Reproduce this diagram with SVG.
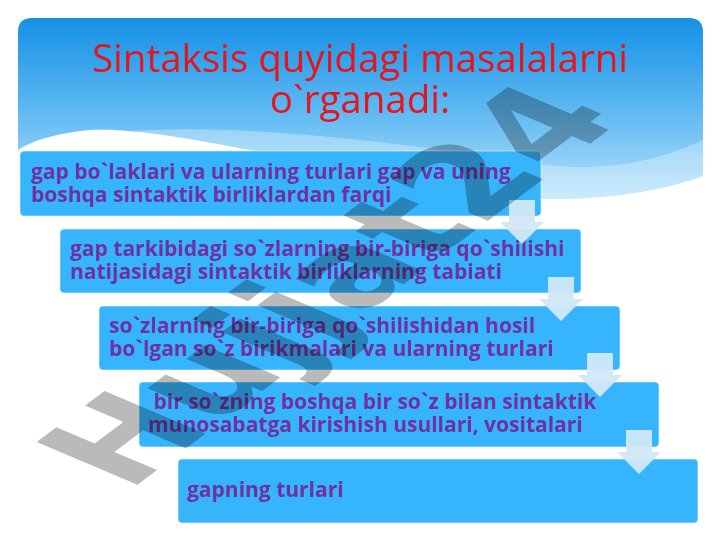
<svg xmlns="http://www.w3.org/2000/svg" width="720" height="540" viewBox="0 0 720 540">
<defs>
<linearGradient id="hdr" x1="0" y1="18" x2="0" y2="200" gradientUnits="userSpaceOnUse">
<stop offset="0" stop-color="#1590e6"/>
<stop offset="0.5" stop-color="#5cb8f2"/>
<stop offset="1" stop-color="#b8e2fa"/>
</linearGradient>
<style>
.box{fill:#36b5fd;stroke:#ffffff;stroke-opacity:0.5;stroke-width:1}
.t{font-family:"Open Sans","Noto Sans","DejaVu Sans",sans-serif;font-weight:bold;font-size:21px;fill:#7030a0}
.title{font-family:"Open Sans","Noto Sans","DejaVu Sans",sans-serif;font-size:38.5px;fill:#e8141c}
.arr{fill:#d2e8f8;fill-opacity:0.95}
.wm{font-family:"DejaVu Sans",sans-serif;font-weight:bold;font-size:130px;fill:#bababa;mix-blend-mode:multiply}
</style>
</defs>
<rect x="0" y="0" width="720" height="540" fill="#ffffff"/>
<g id="header">
<path d="M18,32 Q18,18 32,18 H689 Q703,18 703,32 V176 C660,192 600,200 545,199 C450,197 330,165 250,150 C180,137 120,126 80,131 C50,135 30,142 18,150 Z" fill="url(#hdr)"/>
<path d="M120,132 C250,120 450,150 545,165 C610,172 660,160 703,140 V176 C660,192 600,200 545,199 C450,197 330,165 250,150 C200,141 160,134 120,132 Z" fill="#ffffff" fill-opacity="0.3"/>
<text class="title" x="360" y="72" text-anchor="middle">Sintaksis quyidagi masalalarni</text>
<text class="title" x="360" y="113" text-anchor="middle">o`rganadi:</text>
</g>
<g id="node1">
<rect class="box" x="20" y="151" width="521" height="65" rx="4"/>
<text class="t" x="31" y="179">gap bo`laklari va ularning turlari gap va uning</text>
<text class="t" x="31" y="202">boshqa sintaktik birliklardan farqi</text>
</g>
<g id="node2">
<rect class="box" x="60" y="229" width="521" height="64" rx="4"/>
<text class="t" x="70" y="256">gap tarkibidagi so`zlarning bir-biriga qo`shilishi</text>
<text class="t" x="70" y="279">natijasidagi sintaktik birliklarning tabiati</text>
</g>
<g id="node3">
<rect class="box" x="99" y="306" width="521" height="64" rx="4"/>
<text class="t" x="109" y="333">so`zlarning bir-biriga qo`shilishidan hosil</text>
<text class="t" x="109" y="356">bo`lgan so`z birikmalari va ularning turlari</text>
</g>
<g id="node4">
<rect class="box" x="139" y="382" width="520" height="65" rx="4"/>
<text class="t" x="148" y="409" xml:space="preserve"> bir so`zning boshqa bir so`z bilan sintaktik</text>
<text class="t" x="148" y="432">munosabatga kirishish usullari, vositalari</text>
</g>
<g id="node5">
<rect class="box" x="178" y="459" width="520" height="64" rx="4"/>
<text class="t" x="187" y="497">gapning turlari</text>
</g>
<g id="connectors">
<polygon class="arr" points="509,200 535,200 535,222 544,222 522,244 500,222 509,222"/>
<polygon class="arr" points="548,277 574,277 574,299 583,299 561,321 539,299 548,299"/>
<polygon class="arr" points="587,353 613,353 613,375 622,375 600,397 578,375 587,375"/>
<polygon class="arr" points="626,430 652,430 652,452 661,452 639,474 617,452 626,452"/>
</g>
<text class="wm" transform="translate(128,492) rotate(-37) skewX(30)">Hujjat24</text>
</svg>
